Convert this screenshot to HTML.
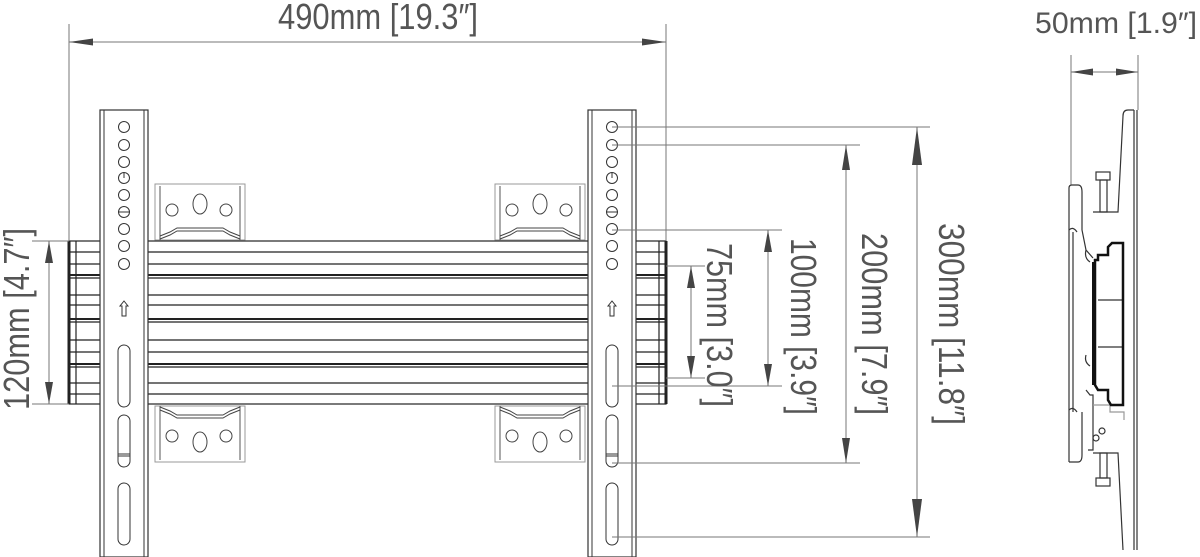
<!DOCTYPE html>
<html><head><meta charset="utf-8"><style>
html,body{margin:0;padding:0;background:#fff;}
svg{display:block;}
text{font-family:"Liberation Sans",sans-serif;fill:#555;}
</style></head><body>
<svg width="1200" height="557" viewBox="0 0 1200 557" xmlns="http://www.w3.org/2000/svg">
<defs>
<g id="holes" fill="none" stroke="#333" stroke-width="1">
  <circle cx="0" cy="127" r="5.5"/><circle cx="0" cy="145" r="5.5"/><circle cx="0" cy="162" r="5.5"/>
  <circle cx="0" cy="178" r="5.5"/><circle cx="0" cy="195" r="5.5"/><circle cx="0" cy="212" r="5.5"/>
  <circle cx="0" cy="229" r="5.5"/><circle cx="0" cy="246" r="5.5"/><circle cx="0" cy="264" r="5.5"/>
  <line x1="-5.5" y1="212" x2="5.5" y2="212"/><line x1="0" y1="173" x2="0" y2="178"/>
  <path d="M-2 316 V306 H-4 L0 301 L4 306 H2 V316 Z"/>
  <rect x="-6" y="345" width="12" height="62" rx="6"/>
  <rect x="-6" y="415" width="12" height="52" rx="6"/>
  <line x1="-6" y1="454" x2="6" y2="454"/><line x1="-6" y1="456" x2="6" y2="456"/>
  <rect x="-6" y="483" width="12" height="62" rx="6"/>
</g>
<g id="brkTop" fill="none">
  <rect x="0" y="0" width="90" height="56" stroke="#999" stroke-width="1"/>
  <line x1="5" y1="2" x2="5" y2="56" stroke="#555"/><line x1="85" y1="2" x2="85" y2="56" stroke="#555"/>
  <circle cx="17" cy="26" r="6" stroke="#444"/><ellipse cx="45" cy="20" rx="7" ry="10" stroke="#444"/><circle cx="71" cy="26" r="6" stroke="#444"/>
  <path d="M5 52 L15 48 L22 44 L68 44 L75 48 L85 52" stroke="#444"/>
  <path d="M5 55 L15 51 L22 47 L68 47 L75 51 L85 55" stroke="#444"/>
</g>
</defs>

<!-- horizontal bar -->
<g stroke="#222" stroke-width="1.2" fill="none">
  <rect x="69" y="241" width="597" height="163"/>
  <line x1="69" y1="241" x2="69" y2="404" stroke-width="3"/>
  <line x1="666" y1="241" x2="666" y2="404" stroke-width="3"/>
  <line x1="76" y1="241" x2="76" y2="404"/>
  <line x1="659" y1="241" x2="659" y2="404"/>
  <line x1="69" y1="252" x2="666" y2="252"/>
  <line x1="69" y1="264" x2="666" y2="264"/>
  <line x1="69" y1="275" x2="666" y2="275" stroke-width="2"/>
  <line x1="69" y1="278" x2="666" y2="278"/>
  <line x1="69" y1="295" x2="666" y2="295"/>
  <line x1="69" y1="305" x2="666" y2="305"/>
  <line x1="69" y1="319" x2="666" y2="319" stroke-width="2"/>
  <line x1="69" y1="322" x2="666" y2="322"/>
  <line x1="69" y1="340" x2="666" y2="340"/>
  <line x1="69" y1="352" x2="666" y2="352"/>
  <line x1="69" y1="364" x2="666" y2="364" stroke-width="2"/>
  <line x1="69" y1="367" x2="666" y2="367"/>
  <line x1="69" y1="383" x2="666" y2="383"/>
  <line x1="69" y1="394" x2="666" y2="394"/>
</g>

<!-- brackets -->
<use href="#brkTop" x="155" y="184"/>
<use href="#brkTop" x="495" y="184"/>
<use href="#brkTop" transform="translate(155,462) scale(1,-1)"/>
<use href="#brkTop" transform="translate(495,462) scale(1,-1)"/>

<!-- vertical strips -->
<g fill="#fff" stroke="#333" stroke-width="1.2">
  <rect x="100" y="110" width="48" height="447"/>
  <rect x="588" y="110" width="48" height="447"/>
</g>
<g stroke="#333" stroke-width="1"><line x1="104" y1="110" x2="104" y2="557"/><line x1="144" y1="110" x2="144" y2="557"/>
<line x1="592" y1="110" x2="592" y2="557"/><line x1="632" y1="110" x2="632" y2="557"/></g>
<use href="#holes" x="124"/>
<use href="#holes" x="612"/>

<!-- dimension lines -->
<g stroke="#777" stroke-width="1" fill="none">
  <line x1="69" y1="24" x2="69" y2="241"/><line x1="666" y1="24" x2="666" y2="241"/>
  <line x1="69" y1="42" x2="666" y2="42"/>
  <line x1="32" y1="241" x2="69" y2="241"/><line x1="32" y1="404" x2="69" y2="404"/>
  <line x1="49" y1="241" x2="49" y2="404"/>
  <line x1="612" y1="127" x2="930" y2="127"/><line x1="612" y1="537" x2="930" y2="537"/>
  <line x1="917" y1="127" x2="917" y2="537"/>
  <line x1="612" y1="145" x2="860" y2="145"/><line x1="612" y1="463" x2="860" y2="463"/>
  <line x1="846" y1="145" x2="846" y2="463"/>
  <line x1="612" y1="230" x2="782" y2="230"/><line x1="612" y1="386" x2="782" y2="386"/>
  <line x1="768" y1="230" x2="768" y2="386"/>
  <line x1="666" y1="266" x2="705" y2="266"/><line x1="666" y1="378" x2="705" y2="378"/>
  <line x1="691" y1="266" x2="691" y2="378"/>
  <line x1="1071" y1="55" x2="1071" y2="185"/><line x1="1138" y1="55" x2="1138" y2="110"/>
  <line x1="1071" y1="72" x2="1138" y2="72"/>
</g>
<g fill="#444">
  <polygon points="69,42 93,38.5 93,45.5"/><polygon points="666,42 642,38.5 642,45.5"/>
  <polygon points="49,241 45,263 53,263"/><polygon points="49,404 45,382 53,382"/>
  <polygon points="917,127 912,165 922,165"/><polygon points="917,537 912,499 922,499"/>
  <polygon points="846,145 842,170 850,170"/><polygon points="846,463 842,438 850,438"/>
  <polygon points="768,230 764,252 772,252"/><polygon points="768,386 764,364 772,364"/>
  <polygon points="691,266 687,288 695,288"/><polygon points="691,378 687,356 695,356"/>
  <polygon points="1071,72 1093,68.5 1093,75.5"/><polygon points="1138,72 1116,68.5 1116,75.5"/>
</g>

<!-- labels -->
<text x="278" y="29" font-size="36" textLength="200" lengthAdjust="spacingAndGlyphs">490mm [19.3″]</text>
<text x="1035" y="33" font-size="30" textLength="162" lengthAdjust="spacingAndGlyphs">50mm [1.9″]</text>
<text transform="translate(29,410) rotate(-90)" font-size="36" textLength="182" lengthAdjust="spacingAndGlyphs">120mm [4.7″]</text>
<text transform="translate(707,243) rotate(90)" font-size="36" textLength="164" lengthAdjust="spacingAndGlyphs">75mm [3.0″]</text>
<text transform="translate(791,238) rotate(90)" font-size="36" textLength="177" lengthAdjust="spacingAndGlyphs">100mm [3.9″]</text>
<text transform="translate(862,233) rotate(90)" font-size="36" textLength="182" lengthAdjust="spacingAndGlyphs">200mm [7.9″]</text>
<text transform="translate(939,223) rotate(90)" font-size="36" textLength="202" lengthAdjust="spacingAndGlyphs">300mm [11.8″]</text>

<!-- side view -->
<g fill="none" stroke="#333" stroke-width="1.2">
  <line x1="1134" y1="110" x2="1134" y2="550"/><line x1="1137" y1="110" x2="1137" y2="550"/>
  <path d="M1134 110 H1128 Q1123 110 1123 116 L1118 212 H1093"/>
  <path d="M1093 453 H1118 L1123 550"/>
  <rect x="1096" y="172" width="14" height="8"/><rect x="1100" y="180" width="7" height="32"/>
  <rect x="1096" y="478" width="14" height="8"/><rect x="1100" y="453" width="7" height="25"/>
  <path d="M1069 462 V188 Q1069 185 1072 185 H1078 Q1082 185 1082 192 V230 L1086 250 L1093 258"/>
  <line x1="1073" y1="232" x2="1073" y2="412"/>
  <path d="M1069 230 Q1073 226 1077 232"/><path d="M1069 410 Q1073 406 1077 412"/>
  <path d="M1082 412 V455 Q1082 462 1078 462 H1069"/>
  <path d="M1086 390 L1090 395 H1093 V450 H1088"/>
  <circle cx="1102" cy="431" r="3"/><circle cx="1096" cy="438" r="3"/>
  <path d="M1086 250 Q1084 258 1090 262"/><path d="M1086 355 Q1084 362 1090 366"/>
  <line x1="1098" y1="300" x2="1122" y2="300"/><line x1="1098" y1="347" x2="1122" y2="347"/>
  <path d="M1093 405 H1110 V412 H1124 V420" stroke="#999"/>
</g>
<path d="M1095 260 L1098 260 L1098 255 L1108 255 L1108 247 L1112 243 H1123 V405 H1111 L1108 400 V390 H1098 L1095 385 Z" fill="none" stroke="#111" stroke-width="2.5"/>
<line x1="1094" y1="262" x2="1094" y2="385" stroke="#111" stroke-width="4"/>
</svg>
</body></html>
